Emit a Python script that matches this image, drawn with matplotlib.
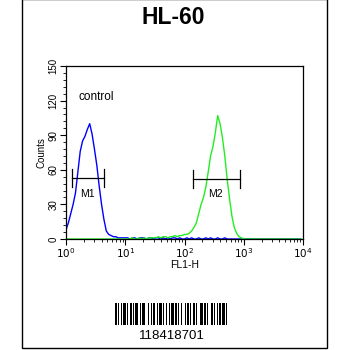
import numpy as np
import matplotlib
matplotlib.use("Agg")
import matplotlib.pyplot as plt
from matplotlib.patches import Rectangle
from matplotlib.ticker import FixedLocator, NullFormatter, LogLocator

# ---- data ----
title = "HL-60"
sample_label = "control"
x_label = "FL1-H"
y_label = "Counts"
y_ticks = [0, 30, 60, 90, 120, 150]
x_ticks = [1, 10, 100, 1000, 10000]
x_tick_labels = ["$10^0$", "$10^1$", "$10^2$", "$10^3$", "$10^4$"]

# log10 channel positions (0.04 decade bins)
log_channels = np.arange(100) * 0.04

blue_counts = [8, 14, 22, 30, 40, 58, 76, 85, 89, 95,
               100, 91, 78, 64, 46, 30, 17, 7, 4, 3,
               2, 2, 1, 1, 1, 1,
               1, 0, 1, 1, 0, 1, 1, 1, 0, 1, 1, 0, 1, 1, 0,
               1, 0, 1, 0, 1, 1, 0, 1, 0, 0, 1, 0, 1, 0, 0,
               1, 0, 0, 1, 0, 1, 0, 0, 1, 0, 0, 1, 0, 0, 0,
               0, 0, 0, 0, 0, 0, 0, 0, 0, 0, 0, 0, 0, 0, 0,
               0, 0, 0, 0, 0, 0, 0, 0, 0, 0, 0, 0, 0, 0]

green_counts = [0] * 26 + [0, 0, 1, 0, 0, 1, 0, 1, 0, 1] + \
               [1, 1, 1, 2, 1, 2, 2, 1, 2, 2, 3, 2, 3, 3, 4] + \
               [4, 5, 7, 10, 14, 22, 30, 36, 45, 58, 72, 80, 92, 107, 100,
                88, 72, 52, 35, 20, 10, 5, 2, 1, 0] + [0] * 24

# markers: (label, x_start, x_end, y)
markers = [("M1", 1.25, 4.4, 53), ("M2", 141, 865, 52)]
marker_label_pos = [(1.75, 39), (255, 39)]

barcode_text = "118418701"
barcode_widths = [2, 1, 1, 2, 1, 1, 3, 1, 1, 2, 2, 1, 1, 1, 3, 2, 1, 1, 2, 1,
                  1, 3, 1, 2, 1, 1, 2, 2, 1, 1, 3, 1, 1, 2, 1, 2, 1, 1, 3, 1,
                  2, 1, 1, 2, 1, 3, 1, 1, 2, 1, 1, 2, 2, 1, 1, 3, 1, 1, 2, 1,
                  2, 1, 1, 3, 2, 1, 1, 2, 1, 1, 2, 1, 3, 1, 1, 2]

# ---- figure ----
fig = plt.figure(figsize=(3.5, 3.5), dpi=100)
fig.patch.set_facecolor("white")

# outer frame
fig.add_artist(Rectangle((22 / 350, 2 / 350), 305 / 350, 349 / 350,
                         transform=fig.transFigure, fill=False,
                         edgecolor="black", linewidth=1.0, clip_on=False))

fig.text(173 / 350, 1 - 18 / 350, title, ha="center", va="center",
         fontsize=16.5, fontweight="bold", family="Liberation Sans")

ax = fig.add_axes([66 / 350, 1 - 239 / 350, 237 / 350, 173 / 350])
xs = 10 ** log_channels
ax.plot(xs, blue_counts, color="#0000ff", linewidth=1.0)
ax.plot(xs, green_counts, color="#22ee22", linewidth=1.0)

ax.set_xscale("log")
ax.set_xlim(1, 10000)
ax.set_ylim(0, 150)

for (lab, x0, x1, y), (lx, ly) in zip(markers, marker_label_pos):
    ax.plot([x0, x1], [y, y], color="black", linewidth=0.9)
    ax.plot([x0, x0], [y - 8, y + 8], color="black", linewidth=0.9)
    ax.plot([x1, x1], [y - 8, y + 8], color="black", linewidth=0.9)
    ax.text(lx, ly, lab, fontsize=7.5, family="Liberation Sans",
            ha="left", va="center")

ax.text(1.6, 123, sample_label, fontsize=8.5, family="Liberation Sans",
        ha="left", va="center")

ax.set_xticks(x_ticks)
ax.set_xticklabels(x_tick_labels, fontsize=7.5, family="Liberation Sans")
ax.xaxis.set_minor_locator(LogLocator(base=10, subs=np.arange(2, 10)))
ax.xaxis.set_minor_formatter(NullFormatter())
ax.set_yticks(y_ticks)
ax.set_yticklabels([str(v) for v in y_ticks], fontsize=7,
                   family="Liberation Sans", rotation=90, va="center")
ax.yaxis.set_minor_locator(FixedLocator(np.arange(0, 151, 6)))
ax.tick_params(axis="both", which="major", length=4, width=0.8, pad=1.5)
ax.tick_params(axis="both", which="minor", length=2, width=0.6)
for sp in ax.spines.values():
    sp.set_linewidth(0.9)

ax.set_xlabel(x_label, fontsize=7.5, family="Liberation Sans", labelpad=0)
ax.set_ylabel(y_label, fontsize=7, family="Liberation Sans", labelpad=1)

# barcode
bax = fig.add_axes([115 / 350, 1 - 325 / 350, 114 / 350, 22 / 350])
pos = 0
total = sum(barcode_widths)
for i, w in enumerate(barcode_widths):
    if i % 2 == 0:
        bax.bar(pos, 1, width=w, align="edge", color="black", linewidth=0)
    pos += w
bax.set_xlim(0, total)
bax.set_ylim(0, 1)
bax.axis("off")

fig.text(172 / 350, 1 - 336 / 350, barcode_text, ha="center", va="center",
         fontsize=9.5, family="Liberation Sans")

fig.savefig("out.png", dpi=100, facecolor="white")
